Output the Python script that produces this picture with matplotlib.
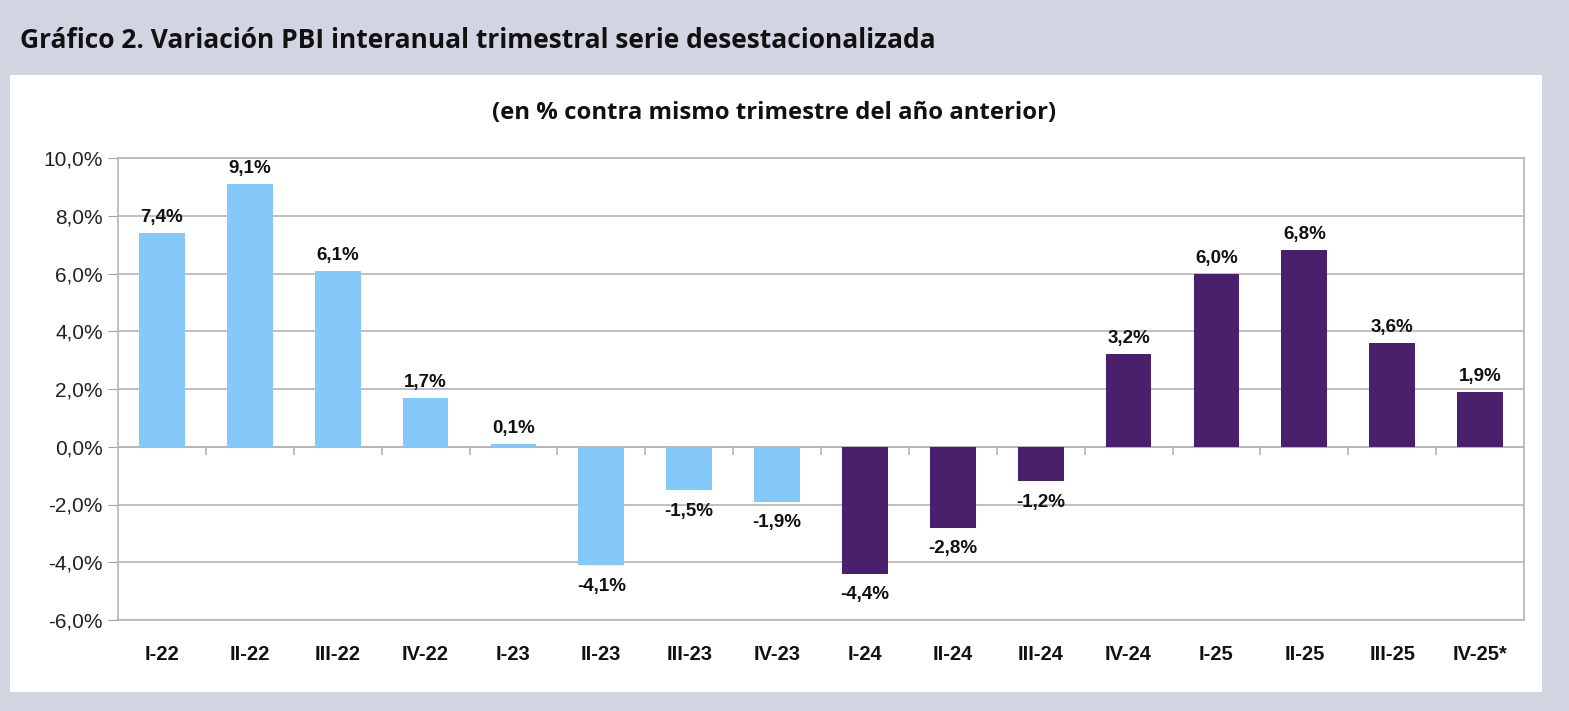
import matplotlib
matplotlib.use("Agg")
import matplotlib.pyplot as plt
from matplotlib.patches import Rectangle
import numpy as np

categories = ["I-22", "II-22", "III-22", "IV-22", "I-23", "II-23", "III-23", "IV-23",
              "I-24", "II-24", "III-24", "IV-24", "I-25", "II-25", "III-25", "IV-25*"]
values = [7.4, 9.1, 6.1, 1.7, 0.1, -4.1, -1.5, -1.9,
          -4.4, -2.8, -1.2, 3.2, 6.0, 6.8, 3.6, 1.9]
period = ["prev"] * 8 + ["curr"] * 8
yticks = [-6, -4, -2, 0, 2, 4, 6, 8, 10]

title = "Gráfico 2. Variación PBI interanual trimestral serie desestacionalizada"
subtitle = "(en % contra mismo trimestre del año anterior)"

color_map = {"prev": "#85C8FA", "curr": "#4A1F6B"}
W, H = 1569, 711
fig = plt.figure(figsize=(W / 100, H / 100), dpi=100)
fig.patch.set_facecolor("#D0D5E1")

# white panel
fig.patches.append(Rectangle((10 / W, (H - 692) / H), 1532 / W, 617 / H,
                             transform=fig.transFigure, facecolor="white",
                             edgecolor="none", zorder=-10))

fig.text(20 / W, 1 - 40 / H, title, fontsize=19, fontweight="bold",
         family="Open Sans", ha="left", va="center", color="#111111")
fig.text(774 / W, 1 - 113 / H, subtitle, fontsize=17.2, fontweight="bold",
         family="Open Sans", ha="center", va="center", color="#111111")

ax = fig.add_axes([118 / W, (H - 620) / H, 1406 / W, 462 / H])
ax.set_zorder(5)
ax.set_facecolor("white")
n = len(categories)
x = np.arange(n)
colors = [color_map[p] for p in period]
ax.bar(x, values, width=0.52, color=colors, zorder=3)

ax.set_xlim(-0.5, n - 0.5)
ax.set_ylim(min(yticks), max(yticks))
ax.set_yticks(yticks)
ax.set_yticklabels([f"{t:.1f}%".replace(".", ",") for t in yticks],
                   family="Liberation Sans", fontsize=15, color="#222222")
ax.tick_params(axis="y", length=7, color="#A0A0A0", pad=4)
ax.grid(axis="y", color="#B4B4B4", linewidth=1.2, zorder=0)
ax.set_xticks(x)
ax.set_xticklabels(categories, family="Liberation Sans", fontsize=14.5,
                   fontweight="bold", color="#111111")
ax.tick_params(axis="x", length=0, pad=18)
for s in ax.spines.values():
    s.set_color("#B4B4B4")
    s.set_linewidth(1.2)

# zero line with category separators
ax.axhline(0, color="#B4B4B4", linewidth=1.2, zorder=2)
ax.vlines(np.arange(0.5, n - 0.5), 0, -0.28, color="#B4B4B4", linewidth=1.2, zorder=2)

for xi, v in zip(x, values):
    lab = f"{v:.1f}%".replace(".", ",")
    if v >= 0:
        ax.annotate(lab, (xi, v), xytext=(0, 5), textcoords="offset points",
                    ha="center", va="bottom", fontsize=13.5, fontweight="bold",
                    family="Liberation Sans", color="#111111")
    else:
        ax.annotate(lab, (xi, v), xytext=(0, -9), textcoords="offset points",
                    ha="center", va="top", fontsize=13.5, fontweight="bold",
                    family="Liberation Sans", color="#111111")

fig.savefig("out.png", dpi=100, facecolor=fig.get_facecolor())
